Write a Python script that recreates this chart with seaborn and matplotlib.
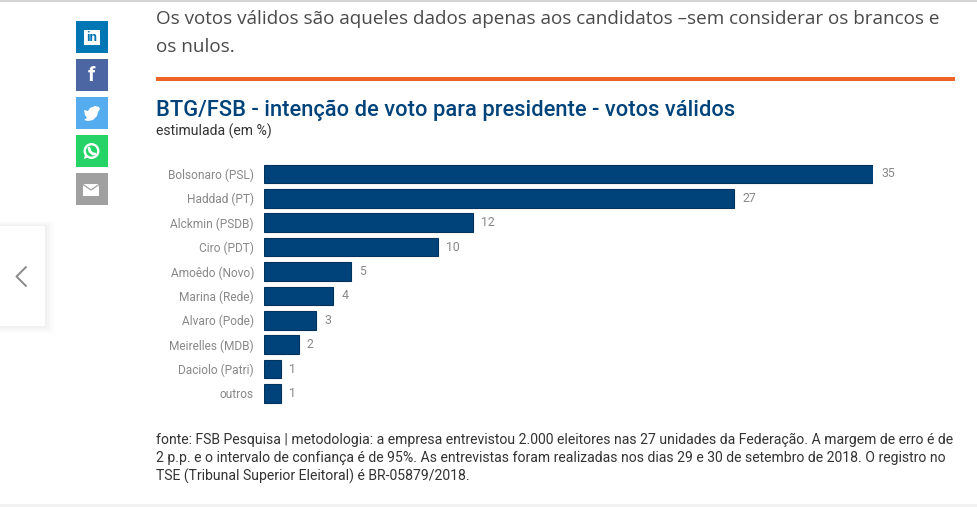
import matplotlib
matplotlib.use('Agg')
import matplotlib.pyplot as plt
import seaborn as sns
import pandas as pd
from matplotlib.patches import Rectangle, Circle, Polygon

candidatos = ['Bolsonaro (PSL)', 'Haddad (PT)', 'Alckmin (PSDB)', 'Ciro (PDT)', 'Amoêdo (Novo)',
              'Marina (Rede)', 'Alvaro (Pode)', 'Meirelles (MDB)', 'Daciolo (Patri)', 'outros']
votos = [35, 27, 12, 10, 5, 4, 3, 2, 1, 1]

W, H = 978, 507
AZUL = '#00437a'

sns.set_theme(style='white')
plt.rcParams['font.family'] = ['Roboto', 'DejaVu Sans']

fig = plt.figure(figsize=(W / 100, H / 100), dpi=100, facecolor='white')

# camada da pagina, em pixels
page = fig.add_axes([0, 0, 1, 1], zorder=0)
page.set_xlim(0, W)
page.set_ylim(H, 0)
page.axis('off')

page.add_patch(Rectangle((0, 0), W, 1.6, color='#d4d4d4', lw=0))
page.add_patch(Rectangle((0, 504), W, 3, color='#f2f2f2', lw=0))
page.add_patch(Rectangle((156, 77), 799, 3.6, color='#ec6527', lw=0))

# botoes de compartilhar
cores = ['#0077b5', '#4c66a4', '#55acee', '#25d366', '#a0a0a0']
for cor, y in zip(cores, [21, 59, 97, 135, 173]):
    page.add_patch(Rectangle((76, y), 32, 32, color=cor, lw=0))
page.add_patch(Rectangle((84, 29.5), 15.5, 15, color='white', lw=0))
page.text(91.8, 37.5, 'in', color='#0077b5', fontsize=9.5, fontweight='bold', ha='center', va='center')
page.text(91.8, 75.5, 'f', color='white', fontsize=15, fontweight='bold', ha='center', va='center')
page.add_patch(Polygon([(84, 110), (88, 111), (90, 108), (95, 106), (99, 107), (100, 109), (98, 112),
                        (97, 116), (93, 120), (88, 121), (84, 120), (87, 118), (85, 115)],
                       closed=True, color='white', lw=0))
page.add_patch(Circle((91.5, 151), 6.8, fill=False, ec='white', lw=1.7))
page.add_patch(Polygon([(84, 159), (85.5, 153), (89, 157)], closed=True, color='white', lw=0))
page.plot([89, 90, 93, 95], [148, 151.5, 154, 154], color='white', lw=2, solid_capstyle='round')
page.add_patch(Rectangle((83, 184), 16, 11.5, color='white', lw=0))
page.plot([83, 91, 99], [184.5, 190, 184.5], color='#a0a0a0', lw=0.9)

# cartao da navegacao com sombra
for i, a in zip([10, 8, 6, 4, 2], [0.006, 0.008, 0.010, 0.012, 0.014]):
    page.add_patch(Rectangle((-15, 226 - i * 0.5), 60 + i, 100 + i * 1.3, color='black', alpha=a, lw=0))
page.add_patch(Rectangle((0, 226), 45, 100, color='white', lw=0))
page.plot([26, 16.5, 26], [267, 276.5, 286], color='#8a8a8a', lw=1.4)

# textos
page.text(156, 18.5, 'Os votos válidos são aqueles dados apenas aos candidatos –sem considerar os brancos e',
          family='Open Sans', fontsize=13.6, color='#4a4a4a', va='center')
page.text(156, 46.5, 'os nulos.', family='Open Sans', fontsize=13.6, color='#4a4a4a', va='center')
page.text(156, 110.5, 'BTG/FSB - intenção de voto para presidente - votos válidos',
          fontsize=15.75, fontweight=500, color=AZUL, va='center')
page.text(156, 131.5, 'estimulada (em %)', fontsize=10.1, color='#333333', va='center')

nota = ['fonte: FSB Pesquisa | metodologia: a empresa entrevistou 2.000 eleitores nas 27 unidades da Federação. A margem de erro é de',
        '2 p.p. e o intervalo de confiança é de 95%. As entrevistas foram realizadas nos dias 29 e 30 de setembro de 2018. O registro no',
        'TSE (Tribunal Superior Eleitoral) é BR-05879/2018.']
for linha, y in zip(nota, [440, 458, 476]):
    page.text(156, y, linha, fontsize=10.08, color='#333333', va='center')

# grafico de barras
ax = fig.add_axes([263.7 / W, 1 - 405.7 / H, 609.5 / W, 244 / H], zorder=1)
ax.patch.set_alpha(0)
df = pd.DataFrame({'candidato': candidatos, 'voto': votos})
sns.barplot(data=df, x='voto', y='candidato', color=AZUL, saturation=1, width=0.76,
            edgecolor='#00345f', linewidth=0.8, ax=ax)
for c in ax.containers:
    ax.bar_label(c, padding=6, fontsize=8.8, color='#888888')
ax.set_xlim(0, 35)
ax.set_xlabel('')
ax.set_ylabel('')
ax.set_xticks([])
ax.tick_params(axis='y', length=0, pad=7, labelsize=8.55, labelcolor='#888888')
sns.despine(ax=ax, left=True, bottom=True)

fig.savefig('out.png', dpi=100)
